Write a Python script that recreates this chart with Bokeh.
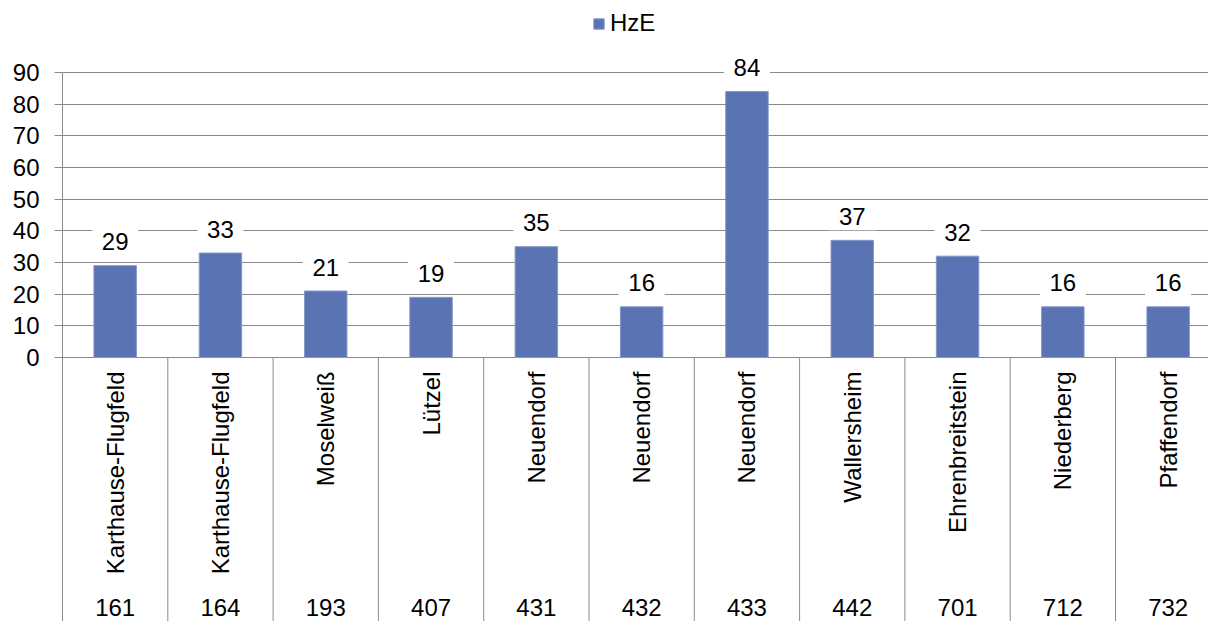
from bokeh.plotting import figure
from bokeh.models import ColumnDataSource, Range1d, FixedTicker
from bokeh.core.properties import value
from bokeh.embed import file_html
from bokeh.resources import INLINE

# ---- data ----
names = ["Karthause-Flugfeld", "Karthause-Flugfeld", "Moselweiß", "Lützel", "Neuendorf",
         "Neuendorf", "Neuendorf", "Wallersheim", "Ehrenbreitstein", "Niederberg", "Pfaffendorf"]
codes = ["161", "164", "193", "407", "431", "432", "433", "442", "701", "712", "732"]
values = [29, 33, 21, 19, 35, 16, 84, 37, 32, 16, 16]
series_name = "HzE"
y_ticks = [0, 10, 20, 30, 40, 50, 60, 70, 80, 90]

# ---- geometry ----
W, H = 1208, 621
left_border = 62
band_px = 105.3
px_per_unit = 285 / 90.0
zero_px = 357              # y=0 position from figure top
x_end = (W - left_border) / band_px
y_end = zero_px / px_per_unit
y_start = y_end - H / px_per_unit

FONT = "Liberation Sans"
FS = "24px"
GRID = "#8a8a8a"
BAR = "#5A73B2"

xs = [i + 0.5 for i in range(len(values))]
src = ColumnDataSource(dict(x=xs, top=values, name=names, code=codes,
                            lab=[str(v) for v in values],
                            laby=[v + 24 / px_per_unit for v in values]))

p = figure(width=W, height=H, output_backend="svg", toolbar_location=None,
           x_range=Range1d(0, x_end), y_range=Range1d(y_start, y_end),
           x_axis_location=None, min_border_left=left_border, min_border_right=0,
           min_border_top=0, min_border_bottom=0)
p.outline_line_color = None
p.xgrid.visible = False
p.ygrid.ticker = FixedTicker(ticks=y_ticks)
p.ygrid.grid_line_color = GRID
p.ygrid.grid_line_width = 1

ax = p.yaxis[0]
ax.ticker = FixedTicker(ticks=y_ticks)
ax.bounds = (y_start, max(y_ticks))
ax.axis_line_color = GRID
ax.major_tick_line_color = GRID
ax.major_tick_out = 8
ax.major_tick_in = 0
ax.minor_tick_line_color = None
ax.major_label_standoff = 15
ax.major_label_text_font = FONT
ax.major_label_text_font_size = FS
ax.major_label_text_color = "black"

# separators in category area
seps = list(range(1, len(values) + 1))
p.segment(x0=seps, y0=[0] * len(seps), x1=seps, y1=[y_start] * len(seps),
          line_color=GRID, line_width=1)

p.vbar(x="x", top="top", width=0.403, source=src, fill_color=BAR,
       line_color="#8596c8", line_width=1, legend_label=series_name)

# value label boxes + text
p.rect(x="x", y="laby", width=46, height=28, width_units="screen", height_units="screen",
       source=src, fill_color="white", line_color=None)
p.text(x="x", y="laby", text="lab", source=src, text_align="center", text_baseline="middle",
       text_font=value(FONT), text_font_size=FS, text_color="black")

# category names (rotated) and codes
name_y = -(371 - zero_px) / px_per_unit
code_y = -(607 - zero_px) / px_per_unit
p.text(x="x", y=name_y, text="name", source=src, angle=1.5707963, text_align="right",
       text_baseline="middle", text_font=value(FONT), text_font_size=FS, text_color="black")
p.text(x="x", y=code_y, text="code", source=src, text_align="center", text_baseline="middle",
       text_font=value(FONT), text_font_size=FS, text_color="black")

lg = p.legend[0]
lg.location = (596 - left_border - 4, H - 10 - 27)
lg.orientation = "horizontal"
lg.margin = 0
lg.padding = 4
lg.glyph_width = 13
lg.glyph_height = 13
lg.label_standoff = 5
lg.label_text_font = FONT
lg.label_text_font_size = FS
lg.label_text_color = "black"
lg.background_fill_alpha = 0
lg.border_line_color = None

open("out.html", "w").write(file_html(p, INLINE))
